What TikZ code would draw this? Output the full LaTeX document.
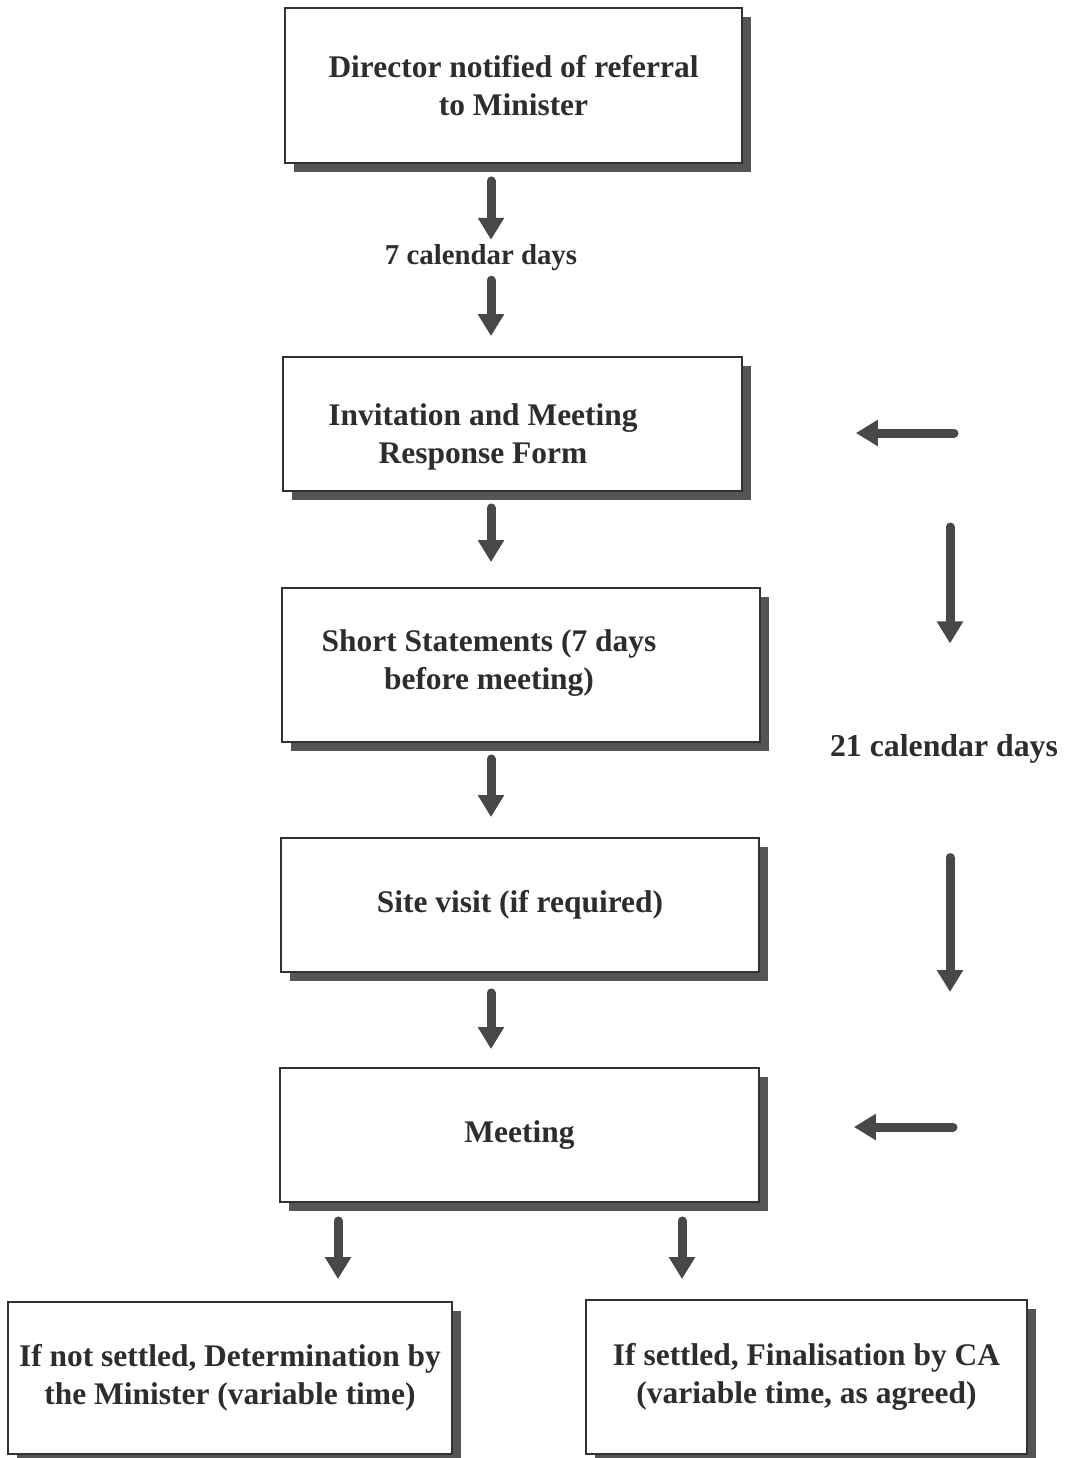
\documentclass[tikz,border=0pt]{standalone}
\usepackage{fontspec}
\setmainfont{Liberation Serif}
\usepackage{tikz}
\usetikzlibrary{arrows.meta, positioning, shadows}
\definecolor{inkgray}{RGB}{45,45,45}
\definecolor{boxgray}{RGB}{50,50,50}
\definecolor{shadegray}{RGB}{85,85,85}
\definecolor{arrowgray}{RGB}{72,72,72}
\tikzset{
  stage/.style={rectangle, draw=boxgray, fill=white, line width=1.1pt,
    align=center, text=inkgray, font=\fontsize{17.9}{21.6}\selectfont\bfseries,
    drop shadow={shadow xshift=0.18cm, shadow yshift=-0.18cm, fill=shadegray, opacity=1}},
  stagetext/.style={align=center, text=inkgray, font=\fontsize{17.9}{21.6}\selectfont\bfseries},
  daylabel/.style={text=inkgray, font=\fontsize{16.4}{21.6}\selectfont\bfseries, inner sep=1pt},
  flowarrow/.style={-{Triangle[width=0.5cm, length=0.44cm]}, line width=0.18cm,
    line cap=round, color=arrowgray}
}

\begin{document}
\begin{tikzpicture}[x=0.02cm, y=-0.02cm]
  \path[use as bounding box, fill=white] (0,0) rectangle (1066,1458);

  % Nodes
  \node[stage, minimum width=9.14cm, minimum height=3.1cm] (dir) at (513.5,85.5) {Director notified of referral\\to Minister};
  \node[daylabel] (d7) at (481,258) {7 calendar days};
  \node[stage, minimum width=9.18cm, minimum height=2.68cm] (inv) at (512.5,424) {};
  \node[stagetext] (invtxt) at (483,437) {Invitation and Meeting\\Response Form};
  \node[stage, minimum width=9.56cm, minimum height=3.08cm] (stmt) at (521,665) {};
  \node[stagetext] (stmttxt) at (489,663) {Short Statements (7 days\\before meeting)};
  \node[stage, minimum width=9.56cm, minimum height=2.68cm] (site) at (520,905) {Site visit (if required)};
  \node[stage, minimum width=9.58cm, minimum height=2.68cm] (meet) at (519.5,1135) {Meeting};
  \node[stage, minimum width=8.88cm, minimum height=3.04cm] (nset) at (230,1378) {If not settled, Determination by\\the Minister (variable time)};
  \node[stage, minimum width=8.82cm, minimum height=3.08cm] (sett) at (806.5,1377) {If settled, Finalisation by CA\\(variable time, as agreed)};
  \node[daylabel, font=\fontsize{18.1}{21.6}\selectfont\bfseries] (d21) at (944,749) {21 calendar days};

  \coordinate (col) at (491,0);
  \coordinate (colL) at (338,0);
  \coordinate (colR) at (682,0);
  \coordinate (up21) at (950,527);
  \coordinate (lo21) at (950,992);
  \coordinate (back1) at (954,433);
  \coordinate (back2) at (953,1127);

  % Arrows
  \draw[flowarrow, shorten <=0.34cm, shorten >=0.06cm] (dir.south -| col) -- (d7.north -| col);
  \draw[flowarrow, shorten <=0.14cm, shorten >=0.4cm] (d7.south -| col) -- (inv.north -| col);
  \draw[flowarrow, shorten <=0.32cm, shorten >=0.5cm] (inv.south -| col) -- (stmt.north -| col);
  \draw[flowarrow, shorten <=0.32cm, shorten >=0.4cm] (stmt.south -| col) -- (site.north -| col);
  \draw[flowarrow, shorten <=0.4cm, shorten >=0.36cm] (site.south -| col) -- (meet.north -| col);
  \draw[flowarrow, shorten <=0.36cm, shorten >=0.44cm] (meet.south -| colL) -- (nset.north -| colL);
  \draw[flowarrow, shorten <=0.36cm, shorten >=0.4cm] (meet.south -| colR) -- (sett.north -| colR);

  \draw[flowarrow, shorten >=2.26cm] (back1) -- (inv.east |- back1);
  \draw[flowarrow, shorten >=1.78cm] (up21) -- (d21.north -| up21);
  \draw[flowarrow, shorten <=1.84cm] (d21.south -| lo21) -- (lo21);
  \draw[flowarrow, shorten >=1.88cm] (back2) -- (meet.east |- back2);

\end{tikzpicture}
\end{document}
